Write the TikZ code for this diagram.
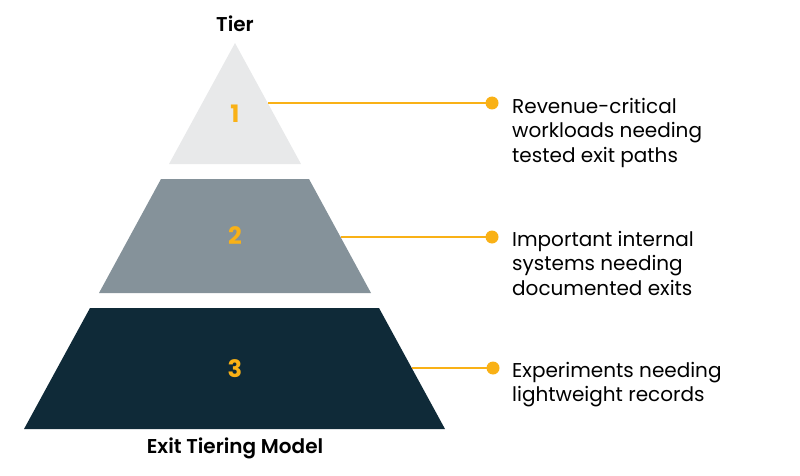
\documentclass[tikz,border=0pt]{standalone}
\usepackage{fontspec}
\setmainfont{Poppins}
\newfontfamily\semib{Poppins SemiBold}
\newfontfamily\boldf{Poppins Bold}
\definecolor{tierlight}{HTML}{E8E9EA}
\definecolor{tiermid}{HTML}{85929A}
\definecolor{tierdark}{HTML}{0F2A38}
\definecolor{accent}{HTML}{F9B116}
\begin{document}
\begin{tikzpicture}[x=1pt,y=-1pt,
  num/.style={font=\boldf\fontsize{24}{26}\selectfont, text=accent},
  desc/.style={anchor=north west, align=left, inner sep=0pt, font=\fontsize{20}{24.5}\selectfont, text=black},
  ttl/.style={font=\semib\fontsize{20}{22}\selectfont, text=black},
  link/.style={draw=accent, line width=1.6pt},
  dot/.style={circle, fill=accent, inner sep=0pt, minimum size=13pt}]
\useasboundingbox (0,0) rectangle (800,476);
% tiers
\fill[tierlight] (235,43) -- (301,164) -- (169,164) -- cycle;
\fill[tiermid] (161,179) -- (309,179) -- (371,293) -- (99,293) -- cycle;
\fill[tierdark] (90,308) -- (379,308) -- (445,429) -- (24,429) -- cycle;
% labels
\node[ttl] (tier) at (235,24) {Tier};
\node[ttl] (model) at (235,448) {Exit Tiering Model};
\node[num] (n1) at (235,114) {1};
\node[num] (n2) at (235,236) {2};
\node[num] (n3) at (235,369) {3};
% edge points
\coordinate (e1) at (268,103);
\coordinate (e2) at (341,237);
\coordinate (e3) at (412,368);
\node[dot] (d1) at (492,103) {};
\node[dot] (d2) at (492,237) {};
\node[dot] (d3) at (493,368) {};
\draw[link] (e1) -- (d1.center);
\draw[link] (e2) -- (d2.center);
\draw[link] (e3) -- (d3.center);
\node[desc] (t1) at (512,98) {Revenue-critical\\workloads needing\\tested exit paths};
\node[desc] (t2) at (512,231) {Important internal\\systems needing\\documented exits};
\node[desc] (t3) at (512,362) {Experiments needing\\lightweight records};
\end{tikzpicture}
\end{document}
